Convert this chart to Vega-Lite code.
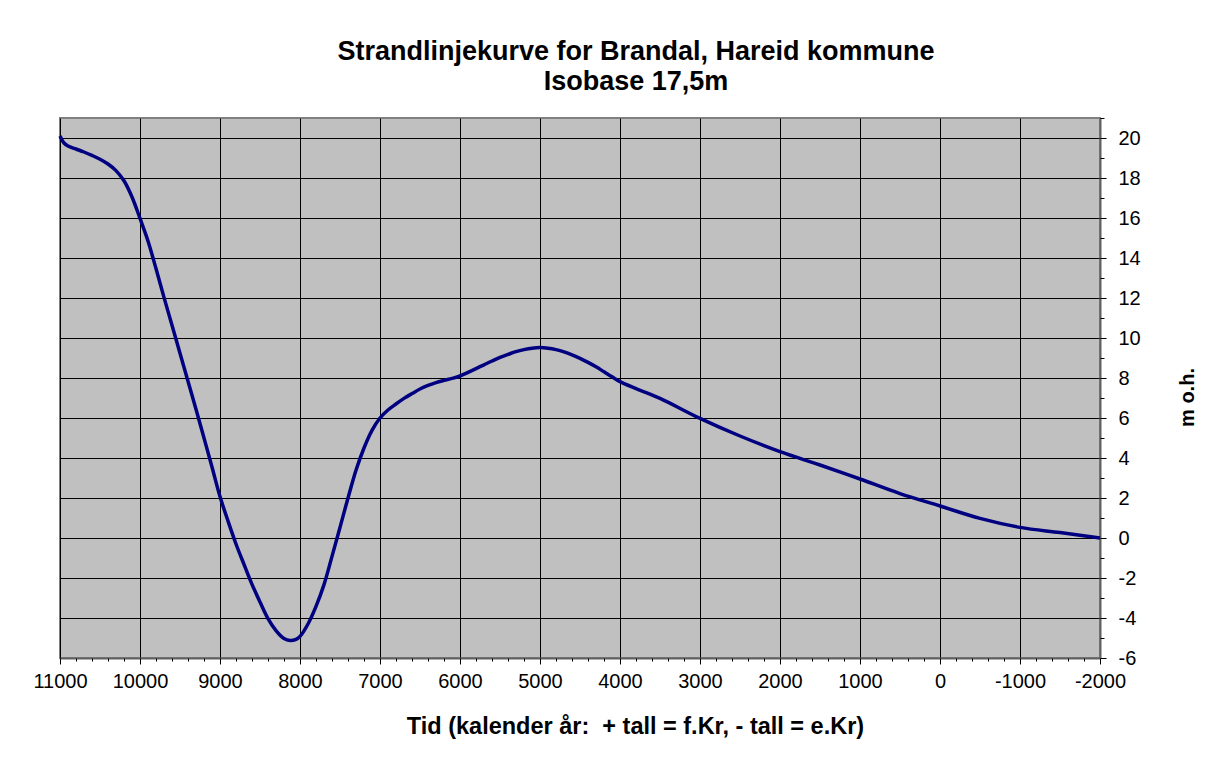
{
  "$schema": "https://vega.github.io/schema/vega-lite/v6.json",
  "width": 1040,
  "height": 540,
  "autosize": "none",
  "padding": {"left": 60, "top": 118, "right": 113, "bottom": 100},
  "background": "white",
  "title": {
    "text": ["Strandlinjekurve for Brandal, Hareid kommune", "Isobase 17,5m"],
    "font": "Liberation Sans",
    "fontSize": 27,
    "fontWeight": "bold",
    "color": "#000000",
    "lineHeight": 30,
    "anchor": "middle",
    "dx": 56,
    "offset": 22
  },
  "config": {
    "font": "Liberation Sans",
    "view": {"fill": "#C0C0C0", "stroke": "#808080", "strokeWidth": 2},
    "axis": {"labelColor": "#000000", "tickColor": "#000000", "titleColor": "#000000", "labelFont": "Liberation Sans", "titleFont": "Liberation Sans"}
  },
  "data": {
    "values": [
      {"year": 11000, "level": 20.1},
      {"year": 10950, "level": 19.75},
      {"year": 10900, "level": 19.6},
      {"year": 10800, "level": 19.45},
      {"year": 10700, "level": 19.3},
      {"year": 10600, "level": 19.13},
      {"year": 10500, "level": 18.94},
      {"year": 10400, "level": 18.7},
      {"year": 10300, "level": 18.37},
      {"year": 10200, "level": 17.86},
      {"year": 10100, "level": 17.05},
      {"year": 10000, "level": 15.98},
      {"year": 9900, "level": 14.85},
      {"year": 9800, "level": 13.47},
      {"year": 9700, "level": 12.03},
      {"year": 9600, "level": 10.64},
      {"year": 9500, "level": 9.24},
      {"year": 9400, "level": 7.84},
      {"year": 9300, "level": 6.44},
      {"year": 9200, "level": 5.0},
      {"year": 9100, "level": 3.55},
      {"year": 9000, "level": 2.07},
      {"year": 8900, "level": 0.85},
      {"year": 8800, "level": -0.3},
      {"year": 8700, "level": -1.32},
      {"year": 8600, "level": -2.32},
      {"year": 8500, "level": -3.2},
      {"year": 8400, "level": -4.03},
      {"year": 8300, "level": -4.63},
      {"year": 8200, "level": -5.03},
      {"year": 8125, "level": -5.13},
      {"year": 8050, "level": -5.07},
      {"year": 8000, "level": -4.92},
      {"year": 7900, "level": -4.3},
      {"year": 7800, "level": -3.42},
      {"year": 7700, "level": -2.33},
      {"year": 7600, "level": -0.92},
      {"year": 7500, "level": 0.53},
      {"year": 7400, "level": 2.0},
      {"year": 7300, "level": 3.39},
      {"year": 7200, "level": 4.5},
      {"year": 7100, "level": 5.38},
      {"year": 7000, "level": 6.0},
      {"year": 6900, "level": 6.4},
      {"year": 6800, "level": 6.7},
      {"year": 6700, "level": 6.98},
      {"year": 6600, "level": 7.22},
      {"year": 6500, "level": 7.45},
      {"year": 6400, "level": 7.63},
      {"year": 6300, "level": 7.77},
      {"year": 6200, "level": 7.88},
      {"year": 6100, "level": 7.98},
      {"year": 6000, "level": 8.1},
      {"year": 5900, "level": 8.28},
      {"year": 5800, "level": 8.47},
      {"year": 5700, "level": 8.66},
      {"year": 5600, "level": 8.85},
      {"year": 5500, "level": 9.03},
      {"year": 5400, "level": 9.18},
      {"year": 5300, "level": 9.32},
      {"year": 5200, "level": 9.42},
      {"year": 5100, "level": 9.49},
      {"year": 5000, "level": 9.52},
      {"year": 4900, "level": 9.49},
      {"year": 4800, "level": 9.42},
      {"year": 4700, "level": 9.31},
      {"year": 4600, "level": 9.16},
      {"year": 4500, "level": 8.98},
      {"year": 4400, "level": 8.78},
      {"year": 4300, "level": 8.56},
      {"year": 4200, "level": 8.31},
      {"year": 4100, "level": 8.06},
      {"year": 4000, "level": 7.82},
      {"year": 3800, "level": 7.47},
      {"year": 3500, "level": 6.98},
      {"year": 3000, "level": 5.98},
      {"year": 2500, "level": 5.1},
      {"year": 2000, "level": 4.32},
      {"year": 1750, "level": 3.98},
      {"year": 1500, "level": 3.65},
      {"year": 1000, "level": 2.95},
      {"year": 500, "level": 2.22},
      {"year": 0, "level": 1.6},
      {"year": -500, "level": 0.98},
      {"year": -1000, "level": 0.53},
      {"year": -1500, "level": 0.27},
      {"year": -2000, "level": 0.0}
    ]
  },
  "layer": [
    {
      "mark": {"type": "line", "color": "#000080", "strokeWidth": 3.5, "interpolate": "catmull-rom"},
      "encoding": {
        "x": {
          "field": "year",
          "type": "quantitative",
          "scale": {"domain": [-2000, 11000], "reverse": true, "nice": false, "zero": false},
          "axis": {
            "orient": "bottom",
            "values": [11000, 10000, 9000, 8000, 7000, 6000, 5000, 4000, 3000, 2000, 1000, 0, -1000, -2000],
            "labelExpr": "toString(datum.value)",
            "labelFontSize": 20,
            "labelPadding": 7,
            "labelFlush": false,
            "labelOverlap": false,
            "tickSize": 6,
            "tickWidth": 1,
            "grid": true,
            "gridColor": "#000000",
            "gridWidth": 1,
            "gridOpacity": 1,
            "domainColor": "#606060",
            "domainWidth": 2,
            "title": "Tid (kalender år:\u00a0 + tall = f.Kr, - tall = e.Kr)",
            "titleFontSize": 23.5,
            "titleFontWeight": "bold",
            "titleX": 575,
            "titleY": 75,
            "titleAlign": "center",
            "titleBaseline": "alphabetic"
          }
        },
        "y": {
          "field": "level",
          "type": "quantitative",
          "scale": {"domain": [-6, 21], "nice": false, "zero": false},
          "axis": {
            "orient": "right",
            "values": [-6, -4, -2, 0, 2, 4, 6, 8, 10, 12, 14, 16, 18, 20],
            "labelExpr": "toString(datum.value)",
            "labelFontSize": 20,
            "labelPadding": 12,
            "labelFlush": false,
            "labelOverlap": false,
            "tickSize": 6,
            "tickWidth": 1,
            "grid": true,
            "gridColor": "#000000",
            "gridWidth": 1,
            "gridOpacity": 1,
            "domainColor": "#606060",
            "domainWidth": 2,
            "title": "m o.h.",
            "titleFontSize": 20,
            "titleFontWeight": "bold",
            "titleAngle": 270,
            "titleX": 87,
            "titleY": 279,
            "titleAlign": "center",
            "titleBaseline": "middle"
          }
        }
      }
    },
    {
      "mark": {"type": "line", "opacity": 0},
      "encoding": {
        "x": {
          "field": "year",
          "type": "quantitative",
          "axis": {
            "orient": "bottom",
            "values": [11000, 10800, 10600, 10400, 10200, 10000, 9800, 9600, 9400, 9200, 9000, 8800, 8600, 8400, 8200, 8000, 7800, 7600, 7400, 7200, 7000, 6800, 6600, 6400, 6200, 6000, 5800, 5600, 5400, 5200, 5000, 4800, 4600, 4400, 4200, 4000, 3800, 3600, 3400, 3200, 3000, 2800, 2600, 2400, 2200, 2000, 1800, 1600, 1400, 1200, 1000, 800, 600, 400, 200, 0, -200, -400, -600, -800, -1000, -1200, -1400, -1600, -1800, -2000],
            "labels": false,
            "grid": false,
            "domain": false,
            "tickSize": 3,
            "tickWidth": 1,
            "title": null
          }
        },
        "y": {
          "field": "level",
          "type": "quantitative",
          "axis": {
            "orient": "right",
            "values": [-6, -5, -4, -3, -2, -1, 0, 1, 2, 3, 4, 5, 6, 7, 8, 9, 10, 11, 12, 13, 14, 15, 16, 17, 18, 19, 20, 21],
            "labels": false,
            "grid": false,
            "domain": false,
            "tickSize": 4,
            "tickWidth": 1,
            "title": null
          }
        }
      }
    }
  ],
  "resolve": {"axis": {"x": "independent", "y": "independent"}}
}
